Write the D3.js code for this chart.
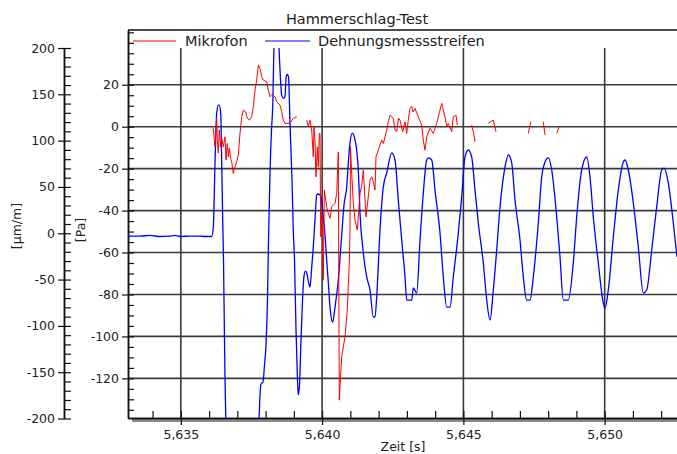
<!DOCTYPE html>
<html>
<head>
<meta charset="utf-8">
<script src="https://cdn.jsdelivr.net/npm/d3@7"></script>
<style>
body { margin: 0; background: #fff; }
#chart { width: 677px; height: 454px; }
text { font-family: "DejaVu Sans", Verdana, sans-serif; fill: #222; }
</style>
</head>
<body>
<div id="chart"></div>
<script>

var title = "Hammerschlag-Test"
var seriesNames = ["Mikrofon", "Dehnungsmessstreifen"]
var seriesColors = ["#ff0000", "#0000ff"]
var xTicks = [5.635, 5.640, 5.645, 5.650]
var dmsTicks = [-200, -150, -100, -50, 0, 50, 100, 150, 200]
var micTicks = [-120, -100, -80, -60, -40, -20, 0, 20]

// Dehnungsmessstreifen [µm/m]
var dmsTime = [5.633130, 5.633555, 5.633909, 5.634263, 5.634617, 5.634793, 5.634970, 5.635324, 5.635678, 5.635855,
    5.636092, 5.636149, 5.636209, 5.636269, 5.636326, 5.636361, 5.636411, 5.636446, 5.636482, 5.636510,
    5.636545, 5.636598, 5.637165, 5.637766, 5.637802, 5.637837, 5.637908, 5.637961, 5.638014, 5.638067,
    5.638103, 5.638156, 5.638209, 5.638251, 5.638297, 5.638386, 5.638474, 5.638510, 5.638570, 5.638633,
    5.638687, 5.638722, 5.638757, 5.638810, 5.638863, 5.638934, 5.638980, 5.639023, 5.639076, 5.639129,
    5.639157, 5.639200, 5.639253, 5.639306, 5.639359, 5.639412, 5.639465, 5.639518, 5.639571, 5.639624,
    5.639688, 5.639748, 5.639808, 5.639854, 5.639925, 5.639978, 5.640042, 5.640102, 5.640162, 5.640226,
    5.640279, 5.640375, 5.640456, 5.640573, 5.640693, 5.640775, 5.640870, 5.640934, 5.640987, 5.641068,
    5.641164, 5.641281, 5.641341, 5.641458, 5.641578, 5.641695, 5.641812, 5.641872, 5.641932, 5.642049,
    5.642166, 5.642286, 5.642463, 5.642580, 5.642696, 5.642817, 5.642934, 5.642994, 5.643171, 5.643227,
    5.643348, 5.643465, 5.643581, 5.643702, 5.643758, 5.643879, 5.643995, 5.644172, 5.644289, 5.644409,
    5.644526, 5.644643, 5.644820, 5.644940, 5.645057, 5.645174, 5.645294, 5.645411, 5.645528, 5.645705,
    5.645825, 5.645942, 5.646059, 5.646179, 5.646296, 5.646473, 5.646590, 5.646710, 5.646827, 5.647004,
    5.647121, 5.647241, 5.647358, 5.647475, 5.647651, 5.647772, 5.647888, 5.648005, 5.648126, 5.648303,
    5.648419, 5.648536, 5.648713, 5.648890, 5.649010, 5.649187, 5.649364, 5.649481, 5.649598, 5.649775,
    5.649952, 5.650012, 5.650129, 5.650306, 5.650483, 5.650660, 5.650720, 5.650837, 5.651014, 5.651191,
    5.651367, 5.651488, 5.651665, 5.651841, 5.652018, 5.652100, 5.652252, 5.652429, 5.652560]
var dmsValue = [-3, -3, -2.4, -3.5, -3, -2.4, -3.5, -3, -3, -3.5,
    -3.5, 6.7, 75.8, 129.8, 138.4, 138.4, 129.8, 75.8, 14.3, -28.9,
    -115.2, -201.6, -256, -199.5, -174.6, -162.8, -160.6, -142.3, -120.7, -72.1,
    -7.3, 65.1, 111.7, 136.5, 200, 235, 200, 176.4, 148.8, 145.6,
    147.7, 167.1, 171.4, 169.3, 118.9, 57.5, 3.5, -28.9, -104.5, -158.5,
    -174.6, -163.8, -115.2, -72.1, -46.2, -40.8, -44.0, -52.6, -58.0, -39.7,
    -14.8, 14.3, 41.3, 42.4, 41.3, 35.9, 17.5, -1.9, -28.9, -55.9,
    -79.7, -95.9, -79.7, -50.5, -1.9, 30.5, 50.0, 79.1, 97.4, 108.2,
    100.7, 68.3, 21.9, -21.3, -47.2, -61.3, -90.4, -90.4, -68.8, 3.5,
    50.0, 65.1, 86.7, 79.1, 35.9, -7.3, -47.2, -72.1, -72.1, -59.1,
    -64.5, -7.3, 43.5, 79.1, 81.3, 79.1, 46.7, 0.3, -47.2, -79.7,
    -79.7, -47.2, 0.3, 39.4, 82.3, 89.9, 82.3, 46.7, 11.1, -32.1,
    -72.1, -93.7, -61.3, -18.1, 28.3, 71.5, 84.5, 75.9, 35.9, -7.3,
    -47.2, -72.1, -72.1, -47.2, 11.1, 60.7, 76.9, 81.3, 68.3, 17.5,
    -25.6, -72.1, -72.1, -32.1, 17.5, 68.3, 82.3, 60.7, 17.5, -32.1,
    -75.3, -80.7, -61.3, -4.0, 46.7, 76.9, 79.1, 68.3, 32.7, -14.8,
    -64.5, -61.3, -18.1, 28.3, 68.3, 70.4, 54.3, 11.1, -25.6]

// Mikrofon [Pa], null = Luecke in der Aufzeichnung
var micTime = [5.636149, 5.636209, 5.636269, 5.636290, 5.636326, 5.636361, 5.636411, 5.636446, 5.636503, 5.636563,
    5.636598, 5.636644, 5.636680, 5.636715, 5.636765, 5.636800, 5.636857, 5.636917, 5.636977, 5.637034,
    5.637094, 5.637154, 5.637211, 5.637296, 5.637352, 5.637423, 5.637508, 5.637565, 5.637625, 5.637685,
    5.637742, 5.637802, 5.637862, 5.637919, 5.638039, 5.638095, 5.638156, 5.638216, 5.638333, 5.638393,
    5.638510, 5.638570, 5.638626, 5.638687, 5.638863, 5.638980, 5.639101, 5.639300, 5.639455, 5.639511,
    5.639571, 5.639632, 5.639688, 5.639713, 5.639748, 5.639784, 5.639830, 5.639865, 5.639901, 5.639925,
    5.639950, 5.639986, 5.640021, 5.640042, 5.640078, 5.640162, 5.640219, 5.640279, 5.640339, 5.640456,
    5.640516, 5.640573, 5.640608, 5.640693, 5.640810, 5.640891, 5.640962, 5.640987, 5.641005, 5.641047,
    5.641104, 5.641164, 5.641245, 5.641341, 5.641401, 5.641458, 5.641553, 5.641635, 5.641695, 5.641755,
    5.641812, 5.641872, 5.641907, 5.641989, 5.642109, 5.642166, 5.642286, 5.642343, 5.642403, 5.642463,
    5.642520, 5.642580, 5.642640, 5.642704, 5.642757, 5.642852, 5.642934, 5.642994, 5.643058, 5.643110,
    5.643171, 5.643217, 5.643288, 5.643404, 5.643525, 5.643581, 5.643641, 5.643702, 5.643818, 5.643935,
    5.644055, 5.644172, 5.644232, 5.644289, 5.644349, 5.644409, 5.644466, 5.644586, 5.644643, 5.644739,
    5.644785, 5.645000, 5.645294, 5.645351, 5.645411, 5.645600, 5.645882, 5.646059, 5.646154, 5.646700,
    5.647297, 5.647382, 5.647600, 5.647828, 5.647888, 5.648100, 5.648303, 5.648384]
var micValue = [-0.8, -9.6, 4.0, -6.4, -12.6, -1.6, -9.6, -5.4, -9.6, -4.8,
    -15.9, -8.0, -14.4, -10.3, -15.1, -16.7, -22.3, -19.1, -16.7, -13.5,
    -3.2, 4.7, 7.9, 7.1, 4.0, 3.1, 4.7, 9.5, 17.5, 22.2,
    29.4, 27.8, 23.8, 22.2, 21.4, 17.5, 14.3, 15.1, 14.3, 11.9,
    10.3, 7.1, 3.1, 1.6, 1.6, 4.0, 4.7, null, 3.1, 0,
    3.1, -1.6, -14.4, 0, -6.4, -23.9, -9.6, -19.1, -3.2, -3.2,
    -52.5, -41.3, -57.3, -73.2, -30.2, -38.2, -41.3, -43.7, -38.2, -36.6,
    -31.8, -12.0, -130.4, -109.7, -100.2, -87.4, -65.0, -49.3, -9.6, -22.3,
    -36.6, -44.5, -49.3, -32, -28, -20.7, -43.0, -33.4, -25.5, -23.9,
    -26.3, -30.2, -14.4, -11.2, -6.4, -8.0, -1.6, 2.3, 5.5, 4.7,
    4.0, -1.6, -2.4, 4.1, 3.1, -2.4, 2.3, -3.2, 4.1, 8.7,
    9.8, 7.0, 8.7, 4.7, 0.8, -6.4, -11.2, -4.8, -0.7, -3.2,
    1.6, 7.9, 11.1, 7.9, 4.7, 0, 1.6, -2.4, 4.7, 5.5,
    0.8, null, 0.8, -2.4, -7.2, null, 1.6, 3.1, -2.4, null,
    -3.2, 2.3, null, 2.3, -4.0, null, -3.2, 0]

var width = 677, height = 454
var plotLeft = 128, plotRight = 677, plotTop = 48, plotBottom = 418

var svg = d3.select("#chart").append("svg").attr("width", width).attr("height", height)

var x = d3.scaleLinear().domain([5.63313, 5.65256]).range([plotLeft, plotRight])
var yDms = d3.scaleLinear().domain([-200, 200]).range([418.5, 48])
var yMic = d3.scaleLinear().domain([-138.9, 46.1]).range([418, 30])

var de = d3.formatLocale({decimal: ",", thousands: ".", grouping: [3], currency: ["", " €"], minus: "-"})
var fmtX = de.format(".3f")
var fmtY = de.format("d")

// gridlines
svg.append("g").selectAll("line").data(micTicks).join("line")
    .attr("x1", plotLeft).attr("x2", plotRight)
    .attr("y1", d => yMic(d)).attr("y2", d => yMic(d))
    .attr("stroke", "#3a3a3a").attr("stroke-width", 1.6)
svg.append("g").selectAll("line").data(xTicks).join("line")
    .attr("x1", d => x(d)).attr("x2", d => x(d))
    .attr("y1", plotTop).attr("y2", plotBottom)
    .attr("stroke", "#3a3a3a").attr("stroke-width", 1.6)

// frame on top
svg.append("line").attr("x1", plotLeft).attr("x2", plotRight).attr("y1", 30).attr("y2", 30)
    .attr("stroke", "#111").attr("stroke-width", 1.5)

// outer axis [µm/m]
var gDms = svg.append("g").attr("transform", "translate(64,0)")
gDms.append("g").call(d3.axisRight(yDms).tickValues(d3.range(-200, 201, 10)).tickSize(7).tickSizeOuter(0).tickFormat(""))
gDms.append("g").call(d3.axisLeft(yDms).tickValues(dmsTicks).tickSize(6).tickSizeOuter(0).tickPadding(3).tickFormat(fmtY))

// inner axis [Pa]
var gMic = svg.append("g").attr("transform", "translate(" + plotLeft + ",0)")
gMic.append("g").call(d3.axisRight(yMic).tickValues(d3.range(-135, 46, 5)).tickSize(6).tickSizeOuter(0).tickFormat(""))
gMic.append("g").call(d3.axisLeft(yMic).tickValues(micTicks).tickSize(6).tickSizeOuter(0).tickPadding(3).tickFormat(fmtY))

// x axis
svg.append("rect").attr("x", 132).attr("y", plotBottom + 1).attr("width", plotRight - 132).attr("height", 3).attr("fill", "#8a8a8a")
var gX = svg.append("g").attr("transform", "translate(0," + plotBottom + ")")
gX.append("g").call(d3.axisBottom(x).tickValues(d3.range(5.634, 5.6525, 0.001)).tickSize(-7).tickSizeOuter(0).tickFormat(""))
gX.append("g").call(d3.axisBottom(x).tickValues(xTicks).tickSize(7).tickSizeOuter(0).tickPadding(5).tickFormat(fmtX))

svg.selectAll(".domain").attr("stroke", "#111").attr("stroke-width", 1.5)
svg.selectAll(".tick line").attr("stroke", "#111").attr("stroke-width", 1.2)
svg.selectAll(".tick text").style("font-family", "DejaVu Sans").style("font-size", "12.5px").attr("fill", "#222")

// axis titles
svg.append("text").attr("transform", "translate(21,226) rotate(-90)").attr("text-anchor", "middle")
    .style("font-size", "12.5px").text("[µm/m]")
svg.append("text").attr("transform", "translate(85,230) rotate(-90)").attr("text-anchor", "middle")
    .style("font-size", "12.5px").text("[Pa]")
svg.append("text").attr("x", 403).attr("y", 451).attr("text-anchor", "middle")
    .style("font-size", "12.5px").text("Zeit [s]")

svg.append("text").attr("x", 357).attr("y", 24).attr("text-anchor", "middle")
    .style("font-size", "14.5px").text(title)

// data
svg.append("clipPath").attr("id", "clip").append("rect")
    .attr("x", plotLeft).attr("y", plotTop).attr("width", plotRight - plotLeft).attr("height", plotBottom - plotTop)

var dms = dmsTime.map((t, i) => ({t: t, v: dmsValue[i]}))
var mic = micTime.map((t, i) => ({t: t, v: micValue[i]}))

var lineDms = d3.line().curve(d3.curveMonotoneX).x(d => x(d.t)).y(d => yDms(d.v))
var lineMic = d3.line().defined(d => d.v != null).x(d => x(d.t)).y(d => yMic(d.v))

var gData = svg.append("g").attr("clip-path", "url(#clip)")
gData.append("path").datum(dms).attr("d", lineDms)
    .attr("fill", "none").attr("stroke", seriesColors[1]).attr("stroke-width", 1.3)
gData.append("path").datum(mic).attr("d", lineMic)
    .attr("fill", "none").attr("stroke", seriesColors[0]).attr("stroke-width", 1)

// legend
var legend = [{x1: 133, x2: 176, tx: 185}, {x1: 265, x2: 310, tx: 318}]
legend.forEach((l, i) => {
    svg.append("line").attr("x1", l.x1).attr("x2", l.x2).attr("y1", 41).attr("y2", 41)
        .attr("stroke", seriesColors[i]).attr("stroke-width", 1)
    svg.append("text").attr("x", l.tx).attr("y", 46).style("font-size", "14.5px").text(seriesNames[i])
})

</script>
</body>
</html>
